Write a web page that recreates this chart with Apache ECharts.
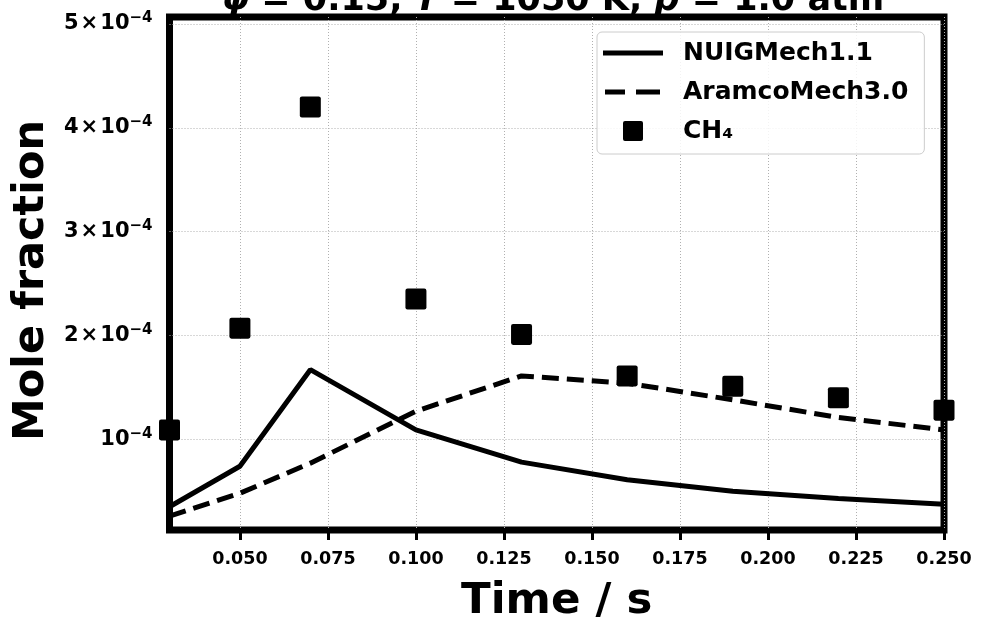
<!DOCTYPE html>
<html>
<head>
<meta charset="utf-8">
<script src="https://cdn.jsdelivr.net/npm/echarts@6/dist/echarts.min.js"></script>
<style>html,body{margin:0;padding:0;background:#fff;}#main{width:982px;height:617px;}</style>
</head>
<body>
<div id="main"></div>
<script>
const timeValues = [0.03, 0.05, 0.07, 0.10, 0.13, 0.16, 0.19, 0.22, 0.25];
const nuigValues = [0.35e-4, 0.74e-4, 1.67e-4, 1.09e-4, 0.78e-4, 0.61e-4, 0.50e-4, 0.43e-4, 0.375e-4];
const aramcoValues = [0.26e-4, 0.48e-4, 0.77e-4, 1.27e-4, 1.61e-4, 1.54e-4, 1.38e-4, 1.21e-4, 1.09e-4];
const ch4Values = [1.09e-4, 2.07e-4, 4.20e-4, 2.35e-4, 2.01e-4, 1.61e-4, 1.51e-4, 1.40e-4, 1.28e-4];
const xTickValues = [0.05, 0.075, 0.1, 0.125, 0.15, 0.175, 0.2, 0.225, 0.25];
const yTickValues = [1e-4, 2e-4, 3e-4, 4e-4, 5e-4];
const seriesNames = ['NUIGMech1.1', 'AramcoMech3.0', 'CH\u2084'];
const titleText = '{i|\u03c6} = 0.15, {i|T} = 1050 K, {i|p} = 1.0 atm';

const FONT = 'DejaVu Sans';
const pair = (xs, ys) => xs.map((x, i) => [x, ys[i]]);
const squarePath = 'path://M2,0 H18 Q20,0 20,2 V18 Q20,20 18,20 H2 Q0,20 0,18 V2 Q0,0 2,0 Z';
const solidIcon = 'path://M0,0 M60,20 M0,7.5 H60 V12.5 H0 Z';
const dashIcon = 'path://M0,0 M60,20 M2,7.5 H22 V12.5 H2 Z M33,7.5 H57 V12.5 H33 Z';
const squareIcon = 'path://M0,0 M60,20 M20,0 H38 Q40,0 40,2 V18 Q40,20 38,20 H22 Q20,20 20,18 V2 Q20,0 22,0 Z';
const iconStyle = {color: '#000', borderWidth: 0, opacity: 1};

const chart = echarts.init(document.getElementById('main'), null, {renderer: 'canvas'});
chart.setOption({
  animation: false,
  backgroundColor: '#ffffff',
  textStyle: {fontFamily: FONT},
  grid: {
    left: 169.5, right: 38, top: 17, bottom: 87,
    outerBoundsMode: 'none', containLabel: false,
    show: true, borderColor: '#000', borderWidth: 7, backgroundColor: 'transparent'
  },
  graphic: [{
    type: 'text', x: 553, y: 18, z: 10,
    style: {
      text: titleText, textAlign: 'center', textVerticalAlign: 'bottom',
      font: 'bold 35px "DejaVu Sans"', fill: '#000',
      rich: {i: {fontStyle: 'italic', fontWeight: 'bold', fontSize: 35, fontFamily: FONT}}
    }
  }],
  legend: {
    orient: 'vertical', left: 597, top: 32,
    itemWidth: 60, itemHeight: 20, itemGap: 11,
    padding: [7, 16, 9, 6],
    backgroundColor: 'rgba(255,255,255,0.85)', borderColor: '#cccccc', borderWidth: 1, borderRadius: 5,
    textStyle: {fontFamily: FONT, fontWeight: 'bold', fontSize: 25, color: '#000', padding: [0, 0, 0, 15], lineHeight: 28},
    data: [
      {name: seriesNames[0], icon: solidIcon, itemStyle: iconStyle},
      {name: seriesNames[1], icon: dashIcon, itemStyle: iconStyle},
      {name: seriesNames[2], icon: squareIcon, itemStyle: iconStyle}
    ]
  },
  xAxis: {
    type: 'value', min: 0.03, max: 0.25,
    name: 'Time / s', nameLocation: 'middle', nameGap: 50,
    nameTextStyle: {fontFamily: FONT, fontWeight: 'bold', fontSize: 43.5, color: '#000'},
    axisLine: {show: false},
    axisTick: {show: true, customValues: xTickValues, length: 10, inside: false, lineStyle: {color: '#000', width: 3}},
    axisLabel: {customValues: xTickValues, margin: 20, fontFamily: FONT, fontWeight: 'bold', fontSize: 17.5, color: '#000',
      formatter: v => v.toFixed(3)},
    splitLine: {show: true, lineStyle: {color: '#b0b0b0', width: 1, type: [1, 2]}}
  },
  yAxis: {
    type: 'value', min: 0.126e-4, max: 5.067e-4,
    name: 'Mole fraction', nameLocation: 'middle', nameGap: 115,
    nameTextStyle: {fontFamily: FONT, fontWeight: 'bold', fontSize: 43, color: '#000', padding: [0, 14, 0, 0]},
    axisLine: {show: false},
    axisTick: {show: false, customValues: yTickValues},
    axisLabel: {customValues: yTickValues, margin: 17, color: '#000', fontFamily: FONT, fontWeight: 'bold', fontSize: 21,
      formatter: v => { const n = Math.round(v * 1e4); return '{n|' + (n === 1 ? '10' : n + '\u200a\u00d7\u200a10') + '}{s|\u22124}'; },
      rich: {
        n: {fontFamily: FONT, fontWeight: 'bold', fontSize: 21, color: '#000'},
        s: {fontFamily: FONT, fontWeight: 'bold', fontSize: 15, color: '#000', padding: [0, 0, 11, 0]}
      }
    },
    splitLine: {show: true, lineStyle: {color: '#b0b0b0', width: 1, type: [1, 2]}}
  },
  series: [
    {name: seriesNames[0], type: 'line', data: pair(timeValues, nuigValues), symbol: 'none', clip: true,
      lineStyle: {color: '#000', width: 5, type: 'solid'}, itemStyle: {color: '#000'}, z: 3},
    {name: seriesNames[1], type: 'line', data: pair(timeValues, aramcoValues), symbol: 'none', clip: true,
      lineStyle: {color: '#000', width: 5, type: [17, 8]}, itemStyle: {color: '#000'}, z: 3},
    {name: seriesNames[2], type: 'scatter', data: pair(timeValues, ch4Values), symbol: squarePath, symbolSize: 21, clip: true,
      itemStyle: {color: '#000', opacity: 1}, z: 4}
  ]
});
</script>
</body>
</html>
